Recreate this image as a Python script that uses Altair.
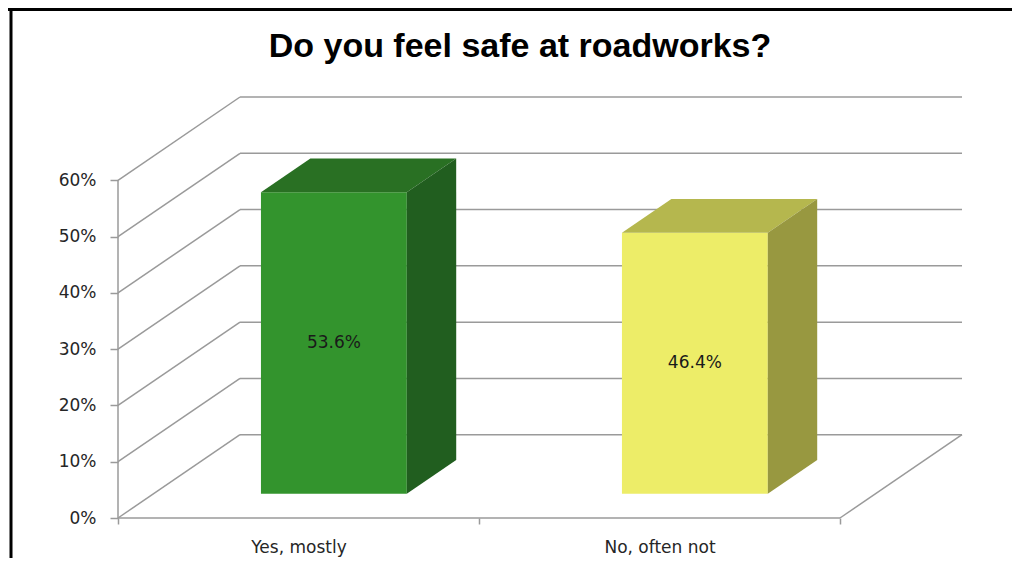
import altair as alt
import pandas as pd

# ---- data ----
CATEGORIES = ["Yes, mostly", "No, often not"]
VALUES = [0.536, 0.464]
LABELS = ["53.6%", "46.4%"]
Y_TICKS = [0.0, 0.1, 0.2, 0.3, 0.4, 0.5, 0.6]
TITLE = ["Do you feel safe at roadworks?"]

# ---- styles ----
FRONT_COLORS = ["#33942D", "#EDED68"]
TOP_COLORS = ["#297023", "#B5B74E"]
SIDE_COLORS = ["#215E1F", "#989840"]
GRID = "#9a9a9a"
FONT = "DejaVu Sans"

# 3-D geometry (in data units of the x/y scales)
DX = 0.338          # depth shift along x
DY = 0.148          # depth shift along y (value units)
BAR_W = 0.404       # bar width (category units)
F0, F1 = 0.29, 0.695  # front / back depth fraction of bars
Y_MAX = Y_TICKS[-1]
N = len(CATEGORIES)

W, H = 844, 421
xs = alt.Scale(domain=[0, N + DX], nice=False, zero=False)
ys = alt.Scale(domain=[0, Y_MAX + DY], nice=False, zero=False)

label_expr = " : ".join(
    f"datum.value == {i + 0.5} ? '{c}'" for i, c in enumerate(CATEGORIES)
) + " : ''"

AX_X = alt.Axis(
    values=[i * 0.5 for i in range(2 * N + 1)], labelExpr=label_expr,
    tickSize=6, tickColor=GRID, tickWidth=1.5, domain=False, grid=False,
    title=None, labelFont=FONT, labelFontSize=17, labelColor="#262626",
    labelPadding=15, labelOverlap=False, labelFlush=False,
    tickOpacity={"condition": {"test": "datum.value % 1 != 0", "value": 0}, "value": 1},
)
AX_Y = alt.Axis(
    values=Y_TICKS, format=".0%", tickSize=8, tickColor=GRID, tickWidth=1.5,
    domain=False, grid=False, title=None, labelFont=FONT, labelFontSize=17,
    labelColor="#262626", labelPadding=14,
)

# ---- frame segments of the 3-D box ----
seg = []
for v in Y_TICKS:
    seg.append(dict(x=DX, y=v + DY, x2=N + DX, y2=v + DY))   # back wall line
    seg.append(dict(x=0, y=v, x2=DX, y2=v + DY))             # side wall line
seg.append(dict(x=0, y=0, x2=0, y2=Y_MAX))                   # front y axis
seg.append(dict(x=0, y=0, x2=N, y2=0))                       # front x axis
seg.append(dict(x=N, y=0, x2=N + DX, y2=DY))                 # floor right edge
seg_df = pd.DataFrame(seg)

segments = alt.Chart(seg_df).mark_rule(color=GRID, strokeWidth=1.5).encode(
    x=alt.X("x:Q", scale=xs, axis=AX_X),
    y=alt.Y("y:Q", scale=ys, axis=AX_Y),
    x2="x2:Q",
    y2="y2:Q",
)

# ---- bar faces ----
front_rows, top_rows, side_rows, text_rows = [], [], [], []
d = F1 - F0
for i, (c, v) in enumerate(zip(CATEGORIES, VALUES)):
    x0 = i + 0.5 - BAR_W / 2 + F0 * DX
    x1 = x0 + BAR_W
    yb = F0 * DY
    yt = yb + v
    front_rows.append(dict(cat=c, x0=x0, x1=x1, yb=yb, yt=yt, col=FRONT_COLORS[i]))
    top_rows.append(dict(cat=c, y=yt, xa=x0, xb=x1, col=TOP_COLORS[i]))
    top_rows.append(dict(cat=c, y=yt + d * DY, xa=x0 + d * DX, xb=x1 + d * DX, col=TOP_COLORS[i]))
    side_rows.append(dict(cat=c, x=x1, ya=yb, yb2=yt, col=SIDE_COLORS[i]))
    side_rows.append(dict(cat=c, x=x1 + d * DX, ya=yb + d * DY, yb2=yt + d * DY, col=SIDE_COLORS[i]))
    text_rows.append(dict(cat=c, x=(x0 + x1) / 2, y=yb + v / 2, label=LABELS[i]))

front = alt.Chart(pd.DataFrame(front_rows)).mark_rect(strokeWidth=0).encode(
    x=alt.X("x0:Q", scale=xs, axis=AX_X), x2="x1:Q",
    y=alt.Y("yb:Q", scale=ys, axis=AX_Y), y2="yt:Q",
    color=alt.Color("col:N", scale=None),
)
top = alt.Chart(pd.DataFrame(top_rows)).mark_area(orient="horizontal").encode(
    y=alt.Y("y:Q", scale=ys, axis=AX_Y),
    x=alt.X("xa:Q", scale=xs, axis=AX_X), x2="xb:Q",
    color=alt.Color("col:N", scale=None),
    detail="cat:N",
)
side = alt.Chart(pd.DataFrame(side_rows)).mark_area(orient="vertical").encode(
    x=alt.X("x:Q", scale=xs, axis=AX_X),
    y=alt.Y("ya:Q", scale=ys, axis=AX_Y), y2="yb2:Q",
    color=alt.Color("col:N", scale=None),
    detail="cat:N",
)
texts = alt.Chart(pd.DataFrame(text_rows)).mark_text(
    font=FONT, fontSize=17, color="#1a1a1a"
).encode(
    x=alt.X("x:Q", scale=xs, axis=AX_X),
    y=alt.Y("y:Q", scale=ys, axis=AX_Y),
    text="label:N",
)

# chart title as a text mark placed above the plot
title = alt.Chart(pd.DataFrame({"t": TITLE})).mark_text(
    font="Liberation Sans", fontSize=34, fontWeight="bold", color="black",
    align="center", baseline="alphabetic",
).encode(x=alt.value(W / 2 - 20), y=alt.value(-40), text="t:N")

# picture border (top and left edges of the screenshot frame)
border_top = alt.Chart(pd.DataFrame({"k": [0]})).mark_rule(color="black", strokeWidth=3).encode(
    x=alt.value(-110), x2=alt.value(W + 50), y=alt.value(-87.5)
)
border_left = alt.Chart(pd.DataFrame({"k": [0]})).mark_rule(color="black", strokeWidth=3).encode(
    x=alt.value(-107), y=alt.value(-89), y2=alt.value(H + 40)
)

chart = alt.layer(
    segments, front, top, side, texts, title, border_top, border_left
).properties(
    width=W, height=H,
    autosize=alt.AutoSizeParams(type="none"),
    padding={"left": 110, "top": 89, "right": 50, "bottom": 40},
).configure(background="white", view=alt.ViewConfig(stroke=None))

chart.save("out.html", embed_options={"renderer": "svg", "actions": False})
